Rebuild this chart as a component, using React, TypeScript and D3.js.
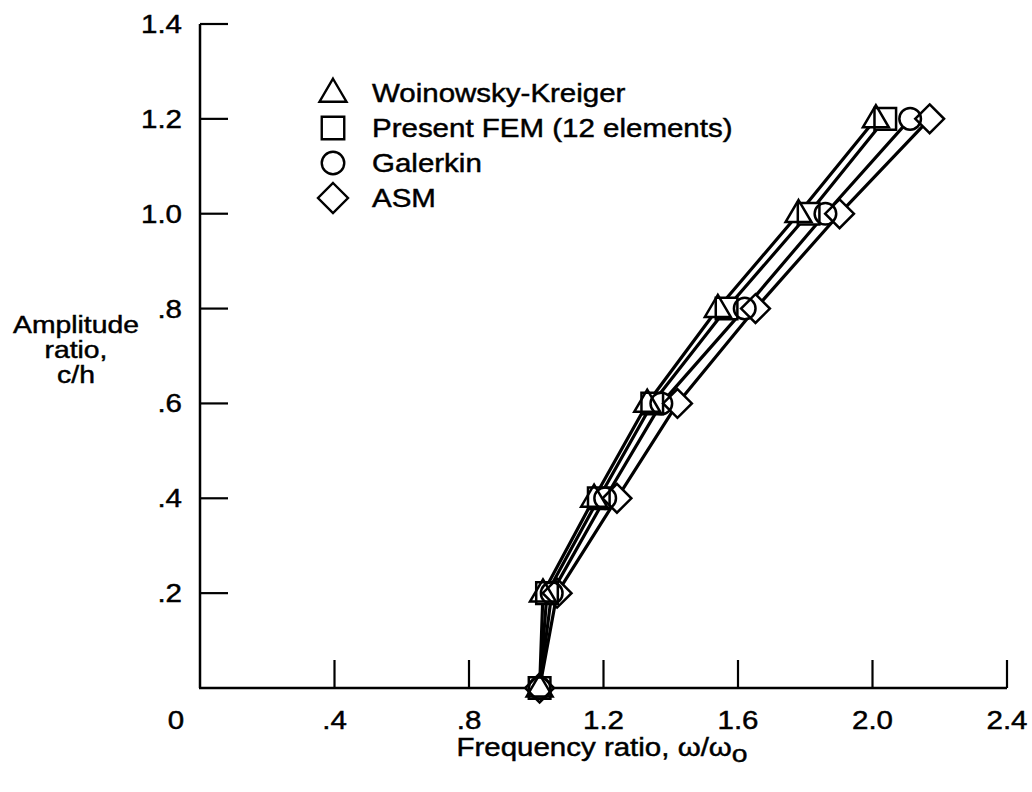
import React from "react";
import * as d3 from "d3";

// Amplitude ratio c/h at which each method was evaluated
const amplitudes = [0, 0.2, 0.4, 0.6, 0.8, 1.0, 1.2];

// Frequency ratio ω/ωo for each method
const woinowskyKreiger = [1.01, 1.02, 1.172, 1.33, 1.54, 1.78, 2.01];
const presentFem = [1.01, 1.032, 1.186, 1.345, 1.566, 1.81, 2.038];
const galerkin = [1.01, 1.046, 1.205, 1.372, 1.62, 1.86, 2.112];
const asm = [1.01, 1.062, 1.24, 1.42, 1.652, 1.902, 2.17];

const seriesNames = [
  "Woinowsky-Kreiger",
  "Present FEM (12 elements)",
  "Galerkin",
  "ASM",
];
const markerKinds = ["triangle", "square", "circle", "diamond"];

const xTicks = [0.4, 0.8, 1.2, 1.6, 2.0, 2.4];
const xTickLabels = [".4", ".8", "1.2", "1.6", "2.0", "2.4"];
const yTicks = [0.2, 0.4, 0.6, 0.8, 1.0, 1.2, 1.4];
const yTickLabels = [".2", ".4", ".6", ".8", "1.0", "1.2", "1.4"];

const W = 1032;
const H = 792;
const FONT = "'Liberation Sans', Arial, Helvetica, sans-serif";
const FS = 25;
const STRETCH = 1.18; // lettering is set a little wide

const x = d3.scaleLinear().domain([0, 2.4]).range([200, 1007]);
const y = d3.scaleLinear().domain([0, 1.4]).range([688, 24]);

function markerPath(kind: string, size: number): string {
  const h = size / 2;
  if (kind === "triangle") {
    const th = size * 0.92;
    return `M0,${-th * 0.62}L${h * 1.08},${th * 0.38}L${-h * 1.08},${th * 0.38}Z`;
  }
  if (kind === "square") {
    const s = h * 0.9;
    return `M${-s},${-s}L${s},${-s}L${s},${s}L${-s},${s}Z`;
  }
  if (kind === "diamond") {
    const d = h * 1.2;
    return `M0,${-d}L${d},0L0,${d}L${-d},0Z`;
  }
  const r = h * 0.9;
  return d3.arc()({
    innerRadius: 0,
    outerRadius: r,
    startAngle: 0,
    endAngle: Math.PI * 2,
  }) as string;
}

function WideText(props: {
  x: number;
  y: number;
  anchor?: "start" | "middle" | "end";
  size?: number;
  children: React.ReactNode;
}) {
  const { x: tx, y: ty, anchor = "start", size = FS, children } = props;
  return (
    <g transform={`translate(${tx},${ty}) scale(${STRETCH},1)`}>
      <text
        x={0}
        y={0}
        textAnchor={anchor}
        fontSize={size}
        stroke="#000"
        strokeWidth={0.45}
      >
        {children}
      </text>
    </g>
  );
}

export default function App() {
  const allSeries = [woinowskyKreiger, presentFem, galerkin, asm];
  const line = d3
    .line<number>()
    .x((d) => x(d))
    .y((_, i) => y(amplitudes[i]));

  const MS = 24;

  return (
    <svg
      width={W}
      height={H}
      style={{ position: "absolute", left: 0, top: 0, background: "#fff" }}
      fontFamily={FONT}
    >
      <rect x={0} y={0} width={W} height={H} fill="#fff" />

      {/* axes */}
      <line x1={x(0)} y1={y(0)} x2={x(0)} y2={y(1.4)} stroke="#000" strokeWidth={2.5} />
      <line x1={x(0) - 1} y1={y(0)} x2={x(2.4)} y2={y(0)} stroke="#000" strokeWidth={2.5} />

      {yTicks.map((t, i) => (
        <g key={"yt" + i}>
          <line x1={x(0)} x2={x(0) + 28} y1={y(t)} y2={y(t)} stroke="#000" strokeWidth={2.2} />
          <WideText x={182} y={y(t) + 9} anchor="end">
            {yTickLabels[i]}
          </WideText>
        </g>
      ))}

      {xTicks.map((t, i) => (
        <g key={"xt" + i}>
          <line x1={x(t)} x2={x(t)} y1={y(0)} y2={y(0) - 28} stroke="#000" strokeWidth={2.2} />
          <WideText x={x(t)} y={729} anchor="middle">
            {xTickLabels[i]}
          </WideText>
        </g>
      ))}
      <WideText x={176} y={729} anchor="middle">
        0
      </WideText>

      {/* axis titles */}
      <WideText x={602} y={756} anchor="middle">
        Frequency ratio, ω/ω
        <tspan dy={6} fontSize={24}>
          o
        </tspan>
      </WideText>
      <WideText x={76} y={333} anchor="middle" size={24}>
        Amplitude
      </WideText>
      <WideText x={76} y={358} anchor="middle" size={24}>
        ratio,
      </WideText>
      <WideText x={76} y={383} anchor="middle" size={24}>
        c/h
      </WideText>

      {/* series lines */}
      {allSeries.map((s, i) => (
        <path
          key={"l" + i}
          d={line(s) as string}
          fill="none"
          stroke="#000"
          strokeWidth={3.2}
          strokeLinejoin="round"
        />
      ))}

      {/* marker fills hide the lines inside the symbols */}
      {allSeries.map((s, i) =>
        s.map((v, j) => (
          <path
            key={`f${i}-${j}`}
            d={markerPath(markerKinds[i], MS)}
            transform={`translate(${x(v)},${y(amplitudes[j])})`}
            fill="#fff"
            stroke="none"
          />
        ))
      )}
      {/* open marker outlines */}
      {allSeries.map((s, i) =>
        s.map((v, j) => (
          <path
            key={`m${i}-${j}`}
            d={markerPath(markerKinds[i], MS)}
            transform={`translate(${x(v)},${y(amplitudes[j])})`}
            fill="none"
            stroke="#000"
            strokeWidth={2.5}
            strokeLinejoin="miter"
          />
        ))
      )}

      {/* legend */}
      {seriesNames.map((name, i) => (
        <g key={"lg" + i}>
          <path
            d={markerPath(markerKinds[i], 25)}
            transform={`translate(333,${93 + i * 35})`}
            fill="#fff"
            stroke="#000"
            strokeWidth={2.4}
          />
          <WideText x={372} y={102 + i * 35}>
            {name}
          </WideText>
        </g>
      ))}
    </svg>
  );
}
